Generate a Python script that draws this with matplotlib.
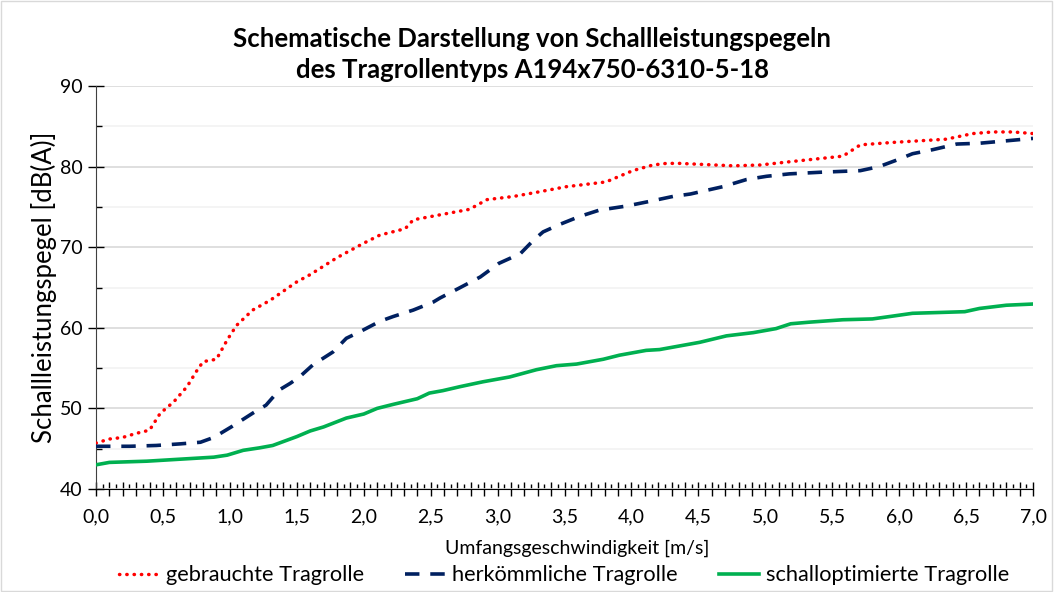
import matplotlib.pyplot as plt
from matplotlib.ticker import MultipleLocator, FuncFormatter
from matplotlib.patches import Rectangle

plt.rcParams['font.family'] = ['Lato', 'DejaVu Sans']

# gebrauchte Tragrolle (dotted red)
x_used = [0.0, 0.1, 0.2, 0.3, 0.4, 0.48, 0.58, 0.68, 0.75, 0.8, 0.9, 0.98, 1.05, 1.17, 1.3,
          1.5, 1.6, 1.8, 2.0, 2.12, 2.31, 2.37, 2.79, 2.92, 3.12, 3.32, 3.51, 3.81, 3.91, 4.01,
          4.16, 4.26, 4.36, 4.76, 4.96, 5.18, 5.58, 5.71, 5.95, 6.35, 6.55, 6.70, 6.85, 7.0]
y_used = [45.7, 46.2, 46.4, 46.9, 47.3, 49.4, 50.8, 52.7, 54.6, 55.8, 56.1, 58.5, 60.3, 62.2, 63.4,
          65.7, 66.6, 68.7, 70.5, 71.5, 72.3, 73.4, 74.7, 75.9, 76.3, 76.9, 77.5, 78.1, 78.8, 79.5,
          80.2, 80.4, 80.4, 80.1, 80.2, 80.6, 81.3, 82.7, 83.0, 83.4, 84.1, 84.3, 84.3, 84.1]

# herkömmliche Tragrolle (dashed navy)
x_conv = [0.0, 0.25, 0.45, 0.63, 0.78, 0.88, 1.02, 1.17, 1.27, 1.37, 1.45, 1.52, 1.62, 1.77,
          1.87, 1.97, 2.12, 2.22, 2.37, 2.52, 2.57, 2.71, 2.87, 3.01, 3.17, 3.27, 3.34, 3.46,
          3.61, 3.76, 3.96, 4.14, 4.31, 4.44, 4.68, 4.86, 5.01, 5.18, 5.41, 5.71, 5.85, 5.98,
          6.10, 6.25, 6.43, 6.60, 6.80, 7.0]
y_conv = [45.3, 45.3, 45.4, 45.6, 45.8, 46.4, 47.8, 49.4, 50.4, 52.3, 53.1, 53.9, 55.4, 57.0,
          58.7, 59.5, 60.8, 61.4, 62.2, 63.2, 63.7, 64.9, 66.3, 68.0, 69.2, 70.9, 71.9, 72.8,
          73.8, 74.6, 75.1, 75.7, 76.3, 76.6, 77.5, 78.4, 78.8, 79.1, 79.3, 79.5, 80.0, 80.8,
          81.6, 82.1, 82.8, 82.9, 83.2, 83.5]

# schalloptimierte Tragrolle (solid green)
x_opt = [0.0, 0.1, 0.38, 0.63, 0.88, 0.98, 1.10, 1.22, 1.32, 1.50, 1.60, 1.70, 1.87, 2.00,
         2.10, 2.22, 2.40, 2.49, 2.59, 2.72, 2.89, 3.09, 3.29, 3.44, 3.59, 3.79, 3.91, 4.11,
         4.21, 4.51, 4.71, 4.91, 5.08, 5.19, 5.33, 5.58, 5.80, 5.93, 6.10, 6.30, 6.49, 6.60,
         6.80, 7.0]
y_opt = [43.0, 43.3, 43.45, 43.7, 43.95, 44.2, 44.8, 45.1, 45.4, 46.5, 47.2, 47.7, 48.8, 49.3,
         50.0, 50.5, 51.2, 51.9, 52.2, 52.7, 53.3, 53.9, 54.8, 55.3, 55.5, 56.1, 56.6, 57.2,
         57.3, 58.2, 59.0, 59.4, 59.9, 60.5, 60.7, 61.0, 61.1, 61.4, 61.8, 61.9, 62.0, 62.4,
         62.8, 62.95]

fig = plt.figure(figsize=(10.54, 5.92), dpi=100)
ax = fig.add_axes([0.0911, 0.174, 0.889, 0.6807])

ax.plot(x_used, y_used, color='#FF0000', linewidth=2.5, linestyle=(0, (0.1, 2.0)),
        dash_capstyle='round', label='gebrauchte Tragrolle', zorder=3)
ax.plot(x_conv, y_conv, color='#002060', linewidth=2.6, linestyle=(0, (4, 3)),
        label='herkömmliche Tragrolle', zorder=3)
ax.plot(x_opt, y_opt, color='#00B050', linewidth=2.6, linestyle='-',
        label='schalloptimierte Tragrolle', zorder=3)

ax.set_xlim(0, 7)
ax.set_ylim(40, 90)

ax.xaxis.set_major_locator(MultipleLocator(0.1))
ax.xaxis.set_minor_locator(MultipleLocator(0.05))
ax.xaxis.set_major_formatter(FuncFormatter(
    lambda v, p: f'{v:.1f}'.replace('.', ',') if abs(v * 2 - round(v * 2)) < 1e-6 else ''))
ax.yaxis.set_major_locator(MultipleLocator(10))
ax.yaxis.set_minor_locator(MultipleLocator(5))

ax.tick_params(axis='x', which='major', direction='inout', length=10, width=1, labelsize=14, pad=9)
ax.tick_params(axis='x', which='minor', direction='in', length=3.5, width=1)
ax.tick_params(axis='y', which='major', direction='inout', length=11, width=1, labelsize=14, pad=4)
ax.tick_params(axis='y', which='minor', direction='in', length=4.5, width=1)

ax.grid(True, which='major', axis='y', color='#d9d9d9', linewidth=1.2, zorder=0)
ax.grid(True, which='minor', axis='y', color='#f2f2f2', linewidth=1.2, zorder=0)
ax.set_axisbelow(True)

for s in ['top', 'right']:
    ax.spines[s].set_visible(False)
ax.spines['left'].set_color('#404040')
ax.spines['bottom'].set_color('#000000')

ax.set_xlabel('Umfangsgeschwindigkeit [m/s]', fontsize=14, labelpad=10, x=0.514)
ax.set_ylabel('Schallleistungspegel [dB(A)]', fontsize=18.5, labelpad=2)

fig.suptitle('Schematische Darstellung von Schallleistungspegeln\ndes Tragrollentyps A194x750-6310-5-18',
             x=0.505, y=0.955, fontsize=18.5, fontweight='bold', linespacing=1.35)

fig.legend(loc='center', bbox_to_anchor=(0.535, 0.028), ncol=3, frameon=False,
           fontsize=15.7, handlelength=1.85, columnspacing=1.9, handletextpad=0.3)

fig.patches.append(Rectangle((0.001, 0.001), 0.997, 0.997, transform=fig.transFigure,
                             fill=False, edgecolor='#d9d9d9', linewidth=1))

plt.savefig('out.png', dpi=100)
